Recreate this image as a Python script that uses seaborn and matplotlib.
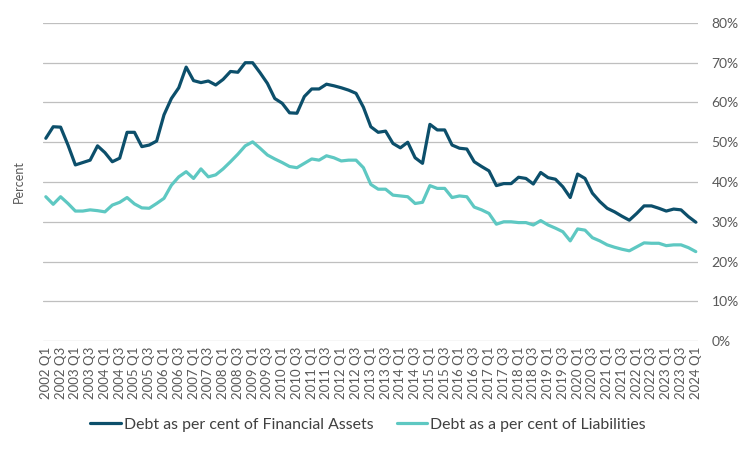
import pandas as pd
import matplotlib
matplotlib.use('Agg')
import matplotlib.pyplot as plt
import seaborn as sns

# quarters 2002 Q1 .. 2024 Q1
quarters = [f'{y} Q{q}' for y in range(2002, 2025) for q in range(1, 5)][:89]

fin_assets = [51.0, 53.9, 53.8, 49.3, 44.3, 44.9, 45.5, 49.1, 47.4, 45.1,
              46.0, 52.5, 52.5, 48.9, 49.3, 50.3, 56.9, 61.0, 63.7, 68.9,
              65.5, 65.0, 65.4, 64.4, 65.8, 67.8, 67.6, 70.0, 70.0, 67.5,
              64.8, 61.0, 59.8, 57.4, 57.3, 61.5, 63.4, 63.4, 64.6, 64.2,
              63.7, 63.1, 62.3, 58.8, 53.9, 52.5, 52.8, 49.7, 48.6, 50.0,
              46.1, 44.7, 54.5, 53.1, 53.1, 49.3, 48.5, 48.3, 45.1, 43.9,
              42.8, 39.1, 39.6, 39.6, 41.2, 40.9, 39.5, 42.4, 41.1, 40.7,
              38.8, 36.1, 42.0, 40.9, 37.2, 35.1, 33.4, 32.5, 31.4, 30.4,
              32.1, 34.0, 34.0, 33.4, 32.7, 33.2, 33.0, 31.3, 29.9]

liabilities = [36.3, 34.4, 36.3, 34.6, 32.7, 32.7, 33.0, 32.8, 32.5, 34.2,
               34.9, 36.1, 34.5, 33.5, 33.4, 34.6, 35.9, 39.2, 41.3, 42.6,
               40.9, 43.3, 41.3, 41.8, 43.3, 45.1, 47.0, 49.1, 50.1, 48.5,
               46.8, 45.8, 44.9, 43.9, 43.6, 44.7, 45.8, 45.5, 46.6, 46.1,
               45.3, 45.5, 45.5, 43.6, 39.4, 38.2, 38.2, 36.7, 36.5, 36.3,
               34.6, 34.9, 39.1, 38.4, 38.4, 36.1, 36.5, 36.3, 33.7, 33.0,
               32.1, 29.4, 30.0, 30.0, 29.8, 29.8, 29.2, 30.3, 29.2, 28.4,
               27.5, 25.2, 28.2, 27.9, 26.0, 25.2, 24.2, 23.6, 23.1, 22.7,
               23.7, 24.7, 24.6, 24.6, 24.0, 24.2, 24.2, 23.5, 22.5]

series_names = ['Debt as per cent of Financial Assets',
                'Debt as a per cent of Liabilities']
colors = ['#0C4F6B', '#5EC8C2']

data = pd.DataFrame({
    'Quarter': quarters * 2,
    'Value': fin_assets + liabilities,
    'Series': [series_names[0]] * len(quarters) + [series_names[1]] * len(quarters),
})

sns.set_theme(style='white')
plt.rcParams['font.family'] = ['Lato', 'DejaVu Sans']

fig = plt.figure(figsize=(7.56, 4.5), dpi=100)
ax = fig.add_axes([0.057, 0.242, 0.866, 0.707])

sns.lineplot(data=data, x='Quarter', y='Value', hue='Series', sort=False,
             palette=colors, linewidth=2.3, ax=ax, legend=False)

ax.set_ylim(0, 80)
ax.set_yticks(range(0, 81, 10))
ax.set_yticklabels([f'{v}%' for v in range(0, 81, 10)])
ax.yaxis.tick_right()
ax.yaxis.set_label_position('left')
ax.set_xlim(-0.37, len(quarters) - 1 + 0.27)
ax.set_xticks(range(0, len(quarters), 2))
ax.set_xticklabels(quarters[::2], rotation=90)
ax.tick_params(axis='y', length=0, pad=10, labelsize=10, labelcolor='#595959')
ax.tick_params(axis='x', length=0, pad=4, labelsize=9.5, labelcolor='#595959')
ax.grid(axis='y', color='#BFBFBF', linewidth=0.9)
ax.grid(axis='x', visible=False)
for s in ax.spines.values():
    s.set_visible(False)
ax.set_xlabel('')
ax.set_ylabel('Percent', fontsize=9, color='#595959')
ax.yaxis.set_label_coords(-0.028, 0.5)

handles = [plt.Line2D([], [], color=c, linewidth=2.3) for c in colors]
fig.legend(handles, series_names, loc='center', bbox_to_anchor=(0.487, 0.056),
           ncol=2, frameon=False, fontsize=11.4, handlelength=1.9,
           handletextpad=0.2, columnspacing=1.5, labelcolor='#404040')

fig.savefig('out.png', dpi=100)
